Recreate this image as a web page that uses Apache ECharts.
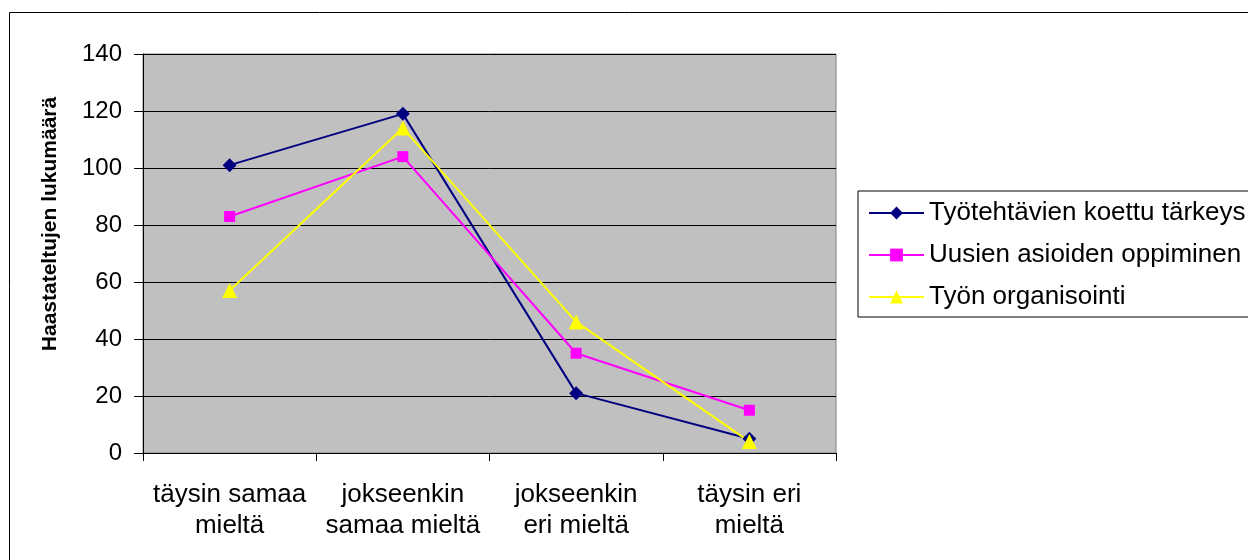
<!DOCTYPE html>
<html><head><meta charset="utf-8">
<script src="https://cdn.jsdelivr.net/npm/echarts@6/dist/echarts.min.js"></script>
<style>html,body{margin:0;padding:0;background:#fff}#c{width:1248px;height:560px}</style>
</head><body><div id="c"></div>
<script>
const categories = ['täysin samaa\nmieltä', 'jokseenkin\nsamaa mieltä', 'jokseenkin\neri mieltä', 'täysin eri\nmieltä'];
const seriesNames = ['Työtehtävien koettu tärkeys', 'Uusien asioiden oppiminen', 'Työn organisointi'];
const tarkeys = [101, 119, 21, 5];
const oppiminen = [83, 104, 35, 15];
const organisointi = [57, 114, 46, 4];
const yTicks = [0, 20, 40, 60, 80, 100, 120, 140];
const yAxisTitle = 'Haastateltujen lukumäärä';

const font = 'Arial, "Liberation Sans", sans-serif';
const chart = echarts.init(document.getElementById('c'), null, {renderer: 'canvas'});
chart.setOption({
  animation: false,
  backgroundColor: '#fff',
  textStyle: {fontFamily: font},
  grid: {left: 143, right: 412, top: 54, bottom: 107, show: true, backgroundColor: '#C0C0C0', borderColor: '#808080', borderWidth: 1},
  legend: {
    left: 858, top: 191, orient: 'vertical',
    padding: [9, 40, 7, 10],
    borderColor: '#000', borderWidth: 1,
    itemWidth: 55, itemHeight: 16, itemGap: 16,
    textStyle: {fontSize: 26, color: '#000', fontFamily: font, lineHeight: 26},
    data: seriesNames
  },
  xAxis: {
    type: 'category', data: categories, boundaryGap: true,
    axisLine: {lineStyle: {color: '#000', width: 1}},
    axisTick: {show: true, length: 8, interval: 0, lineStyle: {color: '#000'}},
    axisLabel: {fontSize: 26, color: '#000', margin: 26, lineHeight: 31, interval: 0, fontFamily: font},
    splitLine: {show: false}
  },
  yAxis: {
    type: 'value', min: yTicks[0], max: yTicks[yTicks.length - 1], interval: 20,
    axisLine: {show: true, lineStyle: {color: '#000'}},
    axisTick: {show: true, length: 9, lineStyle: {color: '#000'}},
    axisLabel: {fontSize: 24, color: '#000', margin: 21, fontFamily: font},
    splitLine: {show: true, lineStyle: {color: '#000', width: 1}}
  },
  graphic: [
    {type: 'rect', shape: {x: 9.5, y: 12.5, width: 1300, height: 600}, style: {fill: 'none', stroke: '#000', lineWidth: 1}, silent: true, z: -1},
    {type: 'text', x: 50, y: 224, rotation: Math.PI / 2,
     style: {text: yAxisTitle, font: 'bold 21px ' + font, fill: '#000', align: 'center', verticalAlign: 'middle'}}
  ],
  series: [
    {name: seriesNames[0], type: 'line', data: tarkeys, symbol: 'diamond', symbolSize: 14,
     itemStyle: {color: '#000080'}, lineStyle: {color: '#000080', width: 2}},
    {name: seriesNames[1], type: 'line', data: oppiminen, symbol: 'rect', symbolSize: 11,
     itemStyle: {color: '#FF00FF'}, lineStyle: {color: '#FF00FF', width: 2}},
    {name: seriesNames[2], type: 'line', data: organisointi, symbol: 'triangle', symbolSize: 15,
     itemStyle: {color: '#FFFF00'}, lineStyle: {color: '#FFFF00', width: 2}}
  ]
});
</script></body></html>
